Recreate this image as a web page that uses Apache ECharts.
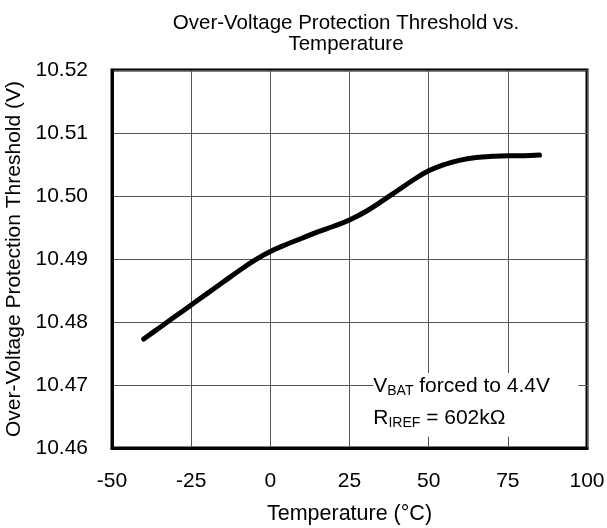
<!DOCTYPE html>
<html>
<head>
<meta charset="utf-8">
<script src="https://cdn.jsdelivr.net/npm/echarts@6/dist/echarts.min.js"></script>
<style>html,body{margin:0;padding:0;background:#fff;}#c{width:607px;height:528px;}</style>
</head>
<body>
<div id="c"></div>
<script>
var temperatures = [-40, -35, -30, -25, -20, -15, -10, -5, 0, 5, 10, 15, 20, 25, 30, 35, 40, 45, 50, 55, 60, 65, 70, 75, 80, 85];
var thresholdV = [10.4773, 10.4791, 10.4809, 10.4827, 10.4845, 10.4863, 10.4881, 10.4898, 10.4912, 10.4923, 10.4933, 10.4943, 10.4952, 10.4962, 10.4975, 10.4991, 10.5008, 10.5025, 10.5040, 10.5050, 10.5057, 10.5061, 10.5063, 10.5064, 10.5064, 10.5065];
var xTicks = [-50, -25, 0, 25, 50, 75, 100];
var yTicks = [10.46, 10.47, 10.48, 10.49, 10.50, 10.51, 10.52];

var font = 'Liberation Sans, Arial, sans-serif';
var chart = echarts.init(document.getElementById('c'));
var data = temperatures.map(function (t, i) { return [t, thresholdV[i]]; });

chart.setOption({
  animation: false,
  backgroundColor: '#fff',
  title: {
    text: 'Over-Voltage Protection Threshold vs.\nTemperature',
    left: 341, top: 8, textAlign: 'center',
    textStyle: { fontFamily: font, fontWeight: 'normal', fontSize: 20.5, color: '#000', lineHeight: 21 }
  },
  grid: { left: 112, right: 20, top: 70, bottom: 80, show: true, borderColor: '#000', borderWidth: 3,
    backgroundColor: 'transparent', containLabel: false, outerBoundsMode: 'none' },
  xAxis: {
    type: 'value', min: -50, max: 100, interval: 25,
    name: 'Temperature (°C)', nameLocation: 'middle', nameGap: 55,
    nameTextStyle: { fontFamily: font, fontSize: 21.5, color: '#000' },
    axisLine: { show: true, onZero: false, lineStyle: { color: '#000', width: 3 } },
    axisTick: { show: false },
    axisLabel: { fontFamily: font, fontSize: 21, color: '#000', margin: 23 },
    splitLine: { show: true, lineStyle: { color: '#555', width: 1 } }
  },
  yAxis: {
    type: 'value', min: 10.46, max: 10.52, interval: 0.01,
    name: 'Over-Voltage Protection Threshold (V)', nameLocation: 'middle', nameGap: 80,
    nameTextStyle: { fontFamily: font, fontSize: 21, color: '#000' },
    axisLine: { show: true, onZero: false, lineStyle: { color: '#000', width: 3 } },
    axisTick: { show: false },
    axisLabel: { fontFamily: font, fontSize: 21, color: '#000', margin: 24,
      formatter: function (v) { return v.toFixed(2); } },
    splitLine: { show: true, lineStyle: { color: '#555', width: 1 } }
  },
  series: [{
    type: 'line', data: data, smooth: 0.4, showSymbol: false, symbol: 'none',
    lineStyle: { color: '#000', width: 5, cap: 'round' }, z: 5
  }]
});

function placeNote() {
  var p1 = chart.convertToPixel({ gridIndex: 0 }, [32.5, 10.4719]);
  var p2 = chart.convertToPixel({ gridIndex: 0 }, [97.3, 10.4618]);
  var rich = {
    m: { fontFamily: font, fontSize: 21, fill: '#000' },
    s: { fontFamily: font, fontSize: 14, fill: '#000', padding: [10, 0, 0, 0] }
  };
  chart.setOption({
    graphic: [
      { type: 'rect', z: 10, shape: { x: p1[0], y: p1[1], width: p2[0] - p1[0], height: p2[1] - p1[1] }, style: { fill: '#fff' } },
      { type: 'text', z: 11, x: p1[0], y: chart.convertToPixel({ gridIndex: 0 }, [0, 10.47])[1] + 1,
        style: { text: '{m|V}{s|BAT}{m| forced to 4.4V}', verticalAlign: 'middle', rich: rich } },
      { type: 'text', z: 11, x: p1[0], y: chart.convertToPixel({ gridIndex: 0 }, [0, 10.4649])[1] + 1,
        style: { text: '{m|R}{s|IREF}{m| = 602kΩ}', verticalAlign: 'middle', rich: rich } }
    ]
  });
}
placeNote();
</script>
</body>
</html>
